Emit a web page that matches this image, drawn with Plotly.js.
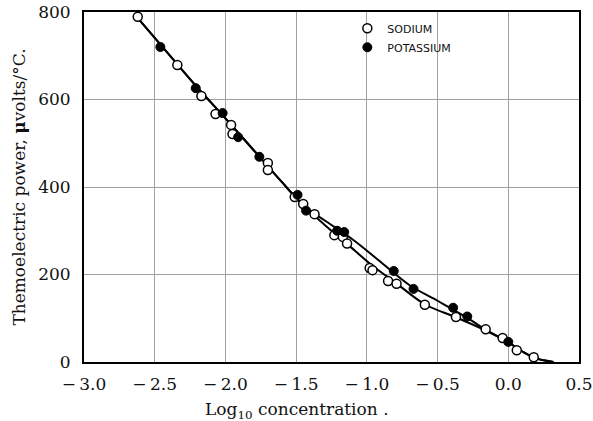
<!DOCTYPE html>
<html>
<head>
<meta charset="utf-8">
<script src="https://cdn.plot.ly/plotly-3.0.1.min.js"></script>
<style>html,body{margin:0;padding:0;background:#fff;}#chart{width:593px;height:421px;}</style>
</head>
<body>
<div id="chart"></div>
<script>
// Sodium (open circles)
const sodiumX = [-2.62, -2.34, -2.17, -2.07, -1.96, -1.95, -1.70, -1.70, -1.51, -1.45, -1.37, -1.23, -1.17, -1.14, -0.98, -0.96, -0.85, -0.79, -0.59, -0.37, -0.16, -0.04, 0.06, 0.18];
const sodiumY = [789, 679, 608, 567, 542, 521, 455, 439, 377, 361, 338, 290, 286, 271, 215, 210, 185, 179, 131, 103, 75, 55, 27, 11];
// Potassium (filled circles)
const potassiumX = [-2.46, -2.21, -2.02, -1.91, -1.76, -1.49, -1.43, -1.21, -1.16, -0.81, -0.67, -0.39, -0.29, 0.00];
const potassiumY = [720, 626, 569, 514, 469, 382, 346, 300, 297, 208, 167, 124, 104, 46];
// Drawn curves
const sodiumCurveX = [-2.63, -2.4, -2.2, -2.0, -1.8, -1.6, -1.45, -1.3, -1.14, -0.96, -0.8, -0.59, -0.37, -0.16, 0.0, 0.1, 0.2, 0.32];
const sodiumCurveY = [790, 703, 628, 557, 484, 411, 358, 314, 270, 220, 182, 132, 102, 72, 45, 24, 8, 0];
const potassiumCurveX = [-2.63, -2.4, -2.2, -2.0, -1.8, -1.6, -1.45, -1.3, -1.1, -0.9, -0.7, -0.5, -0.3, -0.16, 0.0, 0.1, 0.2, 0.32];
const potassiumCurveY = [790, 703, 628, 557, 484, 411, 358, 324, 280, 228, 176, 140, 103, 74, 45, 24, 8, 0];
// Axis ticks
const xTickVals = [-3.0, -2.5, -2.0, -1.5, -1.0, -0.5, 0.0, 0.5];
const xTickText = ["\u2212\u20093.0", "\u2212\u20092.5", "\u2212\u20092.0", "\u2212\u20091.5", "\u2212\u20091.0", "\u2212\u20090.5", "0.0", "0.5"];
const yTickVals = [0, 200, 400, 600, 800];
const yTickText = ["0", "200", "400", "600", "800"];

const serif = "DejaVu Serif, Liberation Serif, serif";

const traces = [
  {x: sodiumCurveX, y: sodiumCurveY, mode: 'lines', line: {color: '#000', width: 2, shape: 'spline', smoothing: 1}, showlegend: false, hoverinfo: 'skip'},
  {x: potassiumCurveX, y: potassiumCurveY, mode: 'lines', line: {color: '#000', width: 2, shape: 'spline', smoothing: 1}, showlegend: false, hoverinfo: 'skip'},
  {x: sodiumX, y: sodiumY, mode: 'markers', name: 'SODIUM',
   marker: {symbol: 'circle', size: 9, color: '#fff', line: {color: '#000', width: 1.5}}},
  {x: potassiumX, y: potassiumY, mode: 'markers', name: 'POTASSIUM',
   marker: {symbol: 'circle', size: 9, color: '#000', line: {color: '#000', width: 1}}}
];

const layout = {
  width: 593, height: 421,
  margin: {l: 84, r: 14, t: 12, b: 59},
  paper_bgcolor: '#fff', plot_bgcolor: '#fff',
  showlegend: true,
  legend: {x: 0.532, y: 0.995, xanchor: 'left', yanchor: 'top', bgcolor: 'rgba(0,0,0,0)',
           font: {family: 'DejaVu Sans, Liberation Sans, sans-serif', size: 11, color: '#111'},
           tracegroupgap: 0, itemwidth: 30},
  xaxis: {range: [-3.0, 0.5], tickvals: xTickVals, ticktext: xTickText, ticks: '',
          showgrid: true, gridcolor: '#a0a0a0', gridwidth: 1, zeroline: false,
          showline: true, mirror: true, linecolor: '#000', linewidth: 2,
          ticklabelstandoff: 6,
          tickfont: {family: serif, size: 17, color: '#111'}},
  yaxis: {range: [0, 800], tickvals: yTickVals, ticktext: yTickText, ticks: '',
          showgrid: true, gridcolor: '#a0a0a0', gridwidth: 1, zeroline: false,
          showline: true, mirror: true, linecolor: '#000', linewidth: 2,
          ticklabelstandoff: 8,
          tickfont: {family: serif, size: 17, color: '#111'},
          title: {text: 'Themoelectric power, <b>\u03bc</b>volts/\u00b0C.', font: {family: serif, size: 17, color: '#111'}, standoff: 8}},
  annotations: [
    {xref: 'paper', yref: 'paper', x: 0.43, y: -0.1, xanchor: 'center', yanchor: 'top', showarrow: false,
     text: 'Log<sub>10</sub> concentration .', font: {family: serif, size: 17, color: '#111'}}
  ]
};

Plotly.newPlot('chart', traces, layout, {displayModeBar: false, staticPlot: true});
</script>
</body>
</html>
